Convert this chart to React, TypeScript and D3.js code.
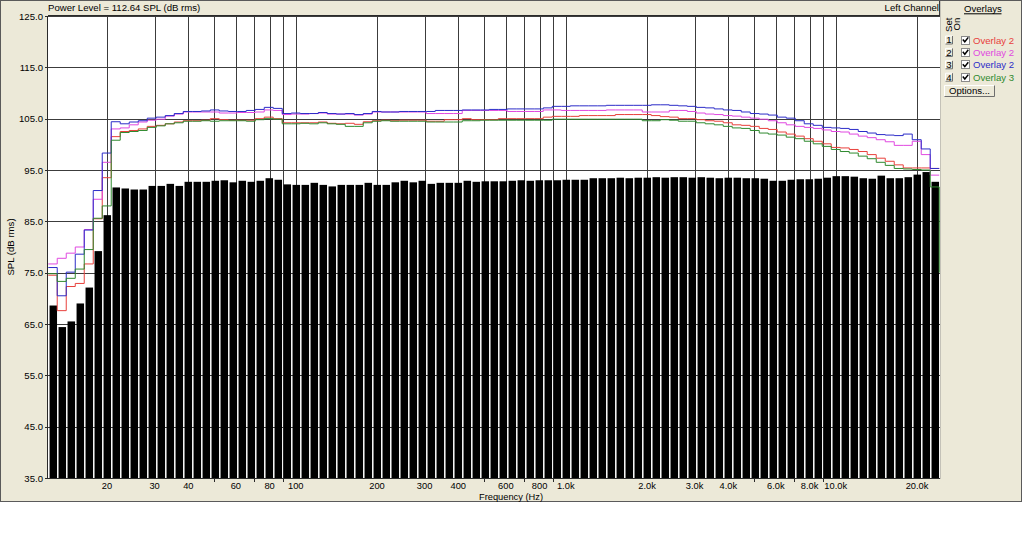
import React from "react";
import * as d3 from "d3";

// ---- data ----
const FREQS = [
  12.59, 13.59, 14.68, 15.85, 17.11, 18.48, 19.95, 21.54, 23.26, 25.12, 27.12, 29.29, 31.62, 34.15, 36.87, 39.81, 42.99, 46.42, 50.12, 54.12, 58.43, 63.1, 68.13, 73.56, 79.43, 85.77, 92.61,
  100.0, 108.0, 116.6, 125.9, 135.9, 146.8, 158.5, 171.1, 184.8, 199.5, 215.4, 232.6, 251.2, 271.2, 292.9, 316.2, 341.5, 368.7, 398.1, 429.9, 464.2, 501.2, 541.2, 584.3, 631.0, 681.3, 735.6, 794.3, 857.7, 926.1,
  1000, 1080, 1166, 1259, 1359, 1468, 1585, 1711, 1848, 1995, 2154, 2326, 2512, 2712, 2929, 3162, 3415, 3687, 3981, 4299, 4642, 5012, 5412, 5843, 6310, 6813, 7356, 7943, 8577, 9261,
  10000, 10800, 11660, 12590, 13590, 14680, 15850, 17110, 18480, 19950, 21540, 23260,
];

const BARS = [
  68.6, 64.4, 65.5, 69.0, 72.1, 79.2, 86.2, 91.6, 91.4, 91.2,
  91.2, 91.9, 91.9, 92.3, 91.9, 92.7, 92.7, 92.7, 92.9, 93.0,
  92.6, 92.9, 92.7, 92.9, 93.4, 93.1, 92.2, 92.1, 92.1, 92.5,
  92.1, 91.8, 92.1, 92.1, 92.1, 92.5, 92.1, 92.1, 92.6, 92.9,
  92.6, 92.9, 92.3, 92.5, 92.5, 92.5, 92.9, 92.7, 92.8, 92.8,
  92.8, 92.9, 93.0, 92.9, 93.0, 93.0, 93.0, 93.1, 93.1, 93.1,
  93.4, 93.4, 93.4, 93.5, 93.4, 93.5, 93.5, 93.6, 93.5, 93.6,
  93.6, 93.5, 93.6, 93.5, 93.4, 93.5, 93.5, 93.4, 93.4, 93.3,
  92.9, 92.9, 93.1, 93.2, 93.2, 93.3, 93.5, 93.8, 93.8, 93.7,
  93.4, 93.3, 93.9, 93.4, 93.4, 93.6, 94.1, 94.6, 92.7,
];

const SET1 = [
  74.5, 67.6, 72.3, 72.9, 76.7, 85.5, 93.5, 101.5, 102.5, 102.7,
  103.0, 103.5, 103.7, 104.0, 104.35, 104.6, 104.6, 104.7, 105.0, 104.8,
  104.7, 104.7, 104.7, 105.0, 105.3, 105.0, 104.2, 104.2, 104.2, 104.2,
  104.35, 104.1, 104.0, 104.1, 103.9, 104.4, 104.6, 104.7, 104.6, 104.7,
  104.7, 104.7, 104.5, 104.5, 104.8, 104.8, 105.0, 104.8, 104.8, 104.8,
  105.0, 105.0, 105.0, 105.0, 105.0, 105.3, 105.45, 105.45, 105.45, 105.6,
  105.6, 105.6, 105.6, 105.8, 105.8, 105.8, 105.8, 105.6, 105.4, 105.3,
  105.0, 105.0, 104.8, 104.6, 104.5, 104.2, 103.8, 103.7, 103.5, 103.1,
  102.9, 102.4, 102.0, 101.6, 101.1, 100.6, 100.1, 99.4, 99.3, 99.0,
  98.6, 98.0, 97.3, 96.7, 96.0, 95.4, 95.4, 95.4, 95.3,
];

const SET2 = [
  76.7, 77.8, 78.8, 80.0, 83.4, 89.3, 96.5, 103.0, 103.2, 103.8,
  104.35, 104.7, 104.9, 105.5, 105.9, 106.3, 106.3, 106.3, 106.3, 106.1,
  106.1, 106.2, 106.2, 106.3, 106.7, 106.6, 105.8, 105.9, 105.9, 106.0,
  106.1, 105.9, 105.9, 105.9, 105.7, 105.9, 106.3, 106.3, 106.3, 106.3,
  106.3, 106.3, 106.0, 106.0, 106.0, 106.0, 106.6, 106.6, 106.6, 106.6,
  106.6, 106.4, 106.4, 106.4, 106.4, 106.7, 106.7, 106.6, 106.6, 106.6,
  106.6, 106.6, 106.7, 106.7, 106.7, 106.7, 106.3, 106.3, 106.3, 106.6,
  106.6, 106.4, 106.1, 105.9, 105.8, 105.6, 105.5, 105.3, 105.1, 104.9,
  104.6, 104.2, 103.8, 103.5, 103.3, 103.1, 102.8, 102.5, 102.4, 102.0,
  101.6, 101.3, 100.9, 100.5, 99.8, 99.8, 100.6, 98.0, 94.0,
];

const SET3 = [
  76.0, 70.5, 75.1, 78.6, 83.3, 91.0, 98.3, 104.4, 104.0, 104.35,
  104.6, 105.1, 105.3, 105.6, 106.0, 106.4, 106.4, 106.5, 106.7, 106.5,
  106.4, 106.4, 106.6, 106.8, 107.2, 107.0, 106.0, 106.1, 106.0, 106.0,
  106.2, 106.0, 105.9, 106.0, 105.8, 106.0, 106.4, 106.3, 106.3, 106.4,
  106.4, 106.4, 106.4, 106.6, 106.6, 106.6, 106.7, 106.7, 106.7, 106.8,
  106.8, 106.9, 106.9, 106.9, 106.9, 107.1, 107.4, 107.4, 107.5, 107.5,
  107.5, 107.5, 107.6, 107.6, 107.6, 107.6, 107.6, 107.7, 107.7, 107.6,
  107.5, 107.4, 107.2, 107.1, 106.9, 106.7, 106.6, 106.3, 106.0, 105.9,
  105.7, 105.3, 105.1, 104.6, 104.0, 103.7, 103.3, 103.2, 103.1, 102.9,
  102.5, 102.2, 101.9, 101.8, 101.7, 102.0, 100.9, 99.1, 95.3,
];

const SET4 = [
  74.8, 73.3, 73.9, 75.7, 79.5, 85.6, 88.0, 100.8, 102.3, 102.5,
  102.7, 103.3, 103.6, 104.0, 104.2, 104.5, 104.5, 104.6, 104.5, 104.6,
  104.6, 104.6, 104.5, 104.8, 105.0, 104.9, 104.0, 104.0, 104.1, 104.0,
  104.2, 104.0, 103.9, 103.5, 103.5, 104.2, 104.5, 104.6, 104.5, 104.5,
  104.5, 104.5, 104.35, 104.35, 104.35, 104.35, 104.6, 104.6, 104.7, 104.7,
  104.7, 104.7, 104.7, 104.7, 104.7, 104.7, 104.9, 104.9, 104.9, 104.9,
  104.9, 104.9, 104.9, 104.9, 104.9, 104.9, 104.6, 104.6, 104.8, 104.7,
  104.5, 104.5, 104.2, 104.0, 103.8, 103.5, 103.2, 103.1, 102.7, 102.2,
  102.0, 101.8, 101.4, 101.1, 100.6, 100.1, 99.6, 99.0, 98.6, 98.3,
  97.7, 97.2, 96.5, 95.9, 95.3, 95.2, 95.1, 95.0, 91.7,
];
const SET4_END = 75.0;

const Y_TICKS = [125, 115, 105, 95, 85, 75, 65, 55, 45, 35];
const X_GRID = [20, 30, 40, 50, 60, 70, 80, 90, 100, 200, 300, 400, 500, 600, 700, 800, 900, 1000, 2000, 3000, 4000, 5000, 6000, 7000, 8000, 9000, 10000, 20000];
const X_LABELS: [number, string][] = [
  [20, "20"], [30, "30"], [40, "40"], [60, "60"], [80, "80"], [100, "100"],
  [200, "200"], [300, "300"], [400, "400"], [600, "600"], [800, "800"], [1000, "1.0k"],
  [2000, "2.0k"], [3000, "3.0k"], [4000, "4.0k"], [6000, "6.0k"], [8000, "8.0k"], [10000, "10.0k"], [20000, "20.0k"],
];
const LEGEND_SETS = ["1", "2", "3", "4"];
const LEGEND_LABELS = ["Overlay 2", "Overlay 2", "Overlay 2", "Overlay 3"];
const HEADER_LEFT = "Power Level = 112.64 SPL (dB rms)";
const HEADER_RIGHT = "Left Channel";

// ---- styles ----
const COLORS = ["#e8403c", "#e048e0", "#2c2cc8", "#2f8a2f"];
const BG = "#ece9d8";
const FONT = "'Liberation Sans', Arial, sans-serif";
const FS = 9.6;

const M = { left: 48, right: 940, top: 16, bottom: 478 };

function Button({ x, y, w, h, label }: { x: number; y: number; w: number; h: number; label: string }) {
  return (
    <g>
      <rect x={x} y={y} width={w} height={h} fill={BG} />
      <path d={`M${x + 0.5},${y + h - 0.5}V${y + 0.5}H${x + w - 0.5}`} stroke="#ffffff" fill="none" />
      <path d={`M${x + 0.5},${y + h - 0.5}H${x + w - 0.5}V${y + 0.5}`} stroke="#6e6e6e" fill="none" />
      <text x={x + w / 2} y={y + h / 2 + 3.4} textAnchor="middle" fontSize={FS} fill="#000">
        {label}
      </text>
    </g>
  );
}

export default function App() {
  const x = d3.scaleLog().domain([12.09, 24330]).range([M.left, M.right]);
  const y = d3.scaleLinear().domain([35, 125]).range([M.bottom, M.top]);

  const n = FREQS.length;
  const edges: number[] = FREQS.map((f, i) =>
    i === 0 ? f / Math.sqrt(FREQS[1] / f) : Math.sqrt(FREQS[i - 1] * f)
  );
  edges.push(FREQS[n - 1] * Math.sqrt(FREQS[n - 1] / FREQS[n - 2]));

  const line = d3.line<[number, number]>().curve(d3.curveStepAfter);
  const stepPath = (vals: number[], tail?: number) => {
    const pts: [number, number][] = vals.map((v, i) => [x(edges[i]), y(v)]);
    pts.push([x(edges[n]), y(vals[n - 1])]);
    if (tail !== undefined) pts.push([x(edges[n]), y(tail)]);
    return line(pts) || "";
  };

  const series = [SET1, SET2, SET3, SET4];
  const labeled = new Set(X_LABELS.map((d) => d[0]));

  return (
    <div style={{ position: "fixed", left: 0, top: 0 }}>
      <svg width={1024} height={536} style={{ display: "block", fontFamily: FONT }}>
        <rect x={0} y={0} width={1024} height={536} fill="#ffffff" />
        <rect x={0.5} y={0.5} width={1021} height={501} fill={BG} stroke="#5a5a5a" />

        {/* header */}
        <text x={48} y={10.5} fontSize={FS} fill="#000">{HEADER_LEFT}</text>
        <text x={939} y={10.8} fontSize={FS} textAnchor="end" fill="#000">{HEADER_RIGHT}</text>
        <line x1={939.5} x2={939.5} y1={1} y2={15} stroke="#3a3a3a" />

        {/* plot area */}
        <rect x={M.left} y={M.top} width={M.right - M.left} height={M.bottom - M.top} fill="#ffffff" />
        <g shapeRendering="crispEdges">
          {Y_TICKS.map((t) => (
            <line key={"h" + t} x1={M.left} x2={M.right} y1={Math.round(y(t)) + 0.5} y2={Math.round(y(t)) + 0.5} stroke="#3c3c3c" />
          ))}
          {X_GRID.map((f) => (
            <line key={"v" + f} x1={Math.round(x(f)) + 0.5} x2={Math.round(x(f)) + 0.5} y1={M.top} y2={M.bottom} stroke="#3c3c3c" />
          ))}
        </g>

        {/* bars */}
        <g>
          {BARS.map((v, i) => {
            const x0 = x(edges[i]);
            const x1 = x(edges[i + 1]);
            return (
              <rect key={"b" + i} x={Math.max(M.left, x0 + 1.3)} y={y(v)} width={x1 - x0 - 1.5} height={M.bottom - y(v)} fill="#000" />
            );
          })}
        </g>

        {/* overlays */}
        <g fill="none" strokeWidth={1}>
          {series.map((s, k) => (
            <path key={"s" + k} d={stepPath(s, k === 3 ? SET4_END : undefined)} stroke={COLORS[k]} />
          ))}
        </g>

        {/* plot borders */}
        <g shapeRendering="crispEdges">
          <line x1={M.left - 0.5} x2={M.right} y1={M.top - 0.5} y2={M.top - 0.5} stroke="#2a2a2a" />
          <line x1={M.left - 0.5} x2={M.left - 0.5} y1={M.top - 0.5} y2={M.bottom} stroke="#2a2a2a" />
          <line x1={M.left - 0.5} x2={M.right} y1={M.bottom + 0.5} y2={M.bottom + 0.5} stroke="#2a2a2a" />
          <line x1={M.right + 0.5} x2={M.right + 0.5} y1={1} y2={M.bottom + 1} stroke="#c4c2b8" />
        </g>

        {/* y axis */}
        <g fontSize={FS} fill="#000">
          {Y_TICKS.map((t) => (
            <g key={"yt" + t}>
              <line x1={M.left - 3} x2={M.left} y1={Math.round(y(t)) + 0.5} y2={Math.round(y(t)) + 0.5} stroke="#2a2a2a" shapeRendering="crispEdges" />
              <text x={43} y={y(t) + 3.5} textAnchor="end">{t.toFixed(1)}</text>
            </g>
          ))}
          <text transform={`translate(14,${(M.top + M.bottom) / 2}) rotate(-90)`} textAnchor="middle">SPL (dB rms)</text>
        </g>

        {/* x axis */}
        <g fill="#000">
          {X_GRID.filter((f) => !labeled.has(f)).map((f) => (
            <line key={"xt" + f} x1={Math.round(x(f)) + 0.5} x2={Math.round(x(f)) + 0.5} y1={M.bottom} y2={M.bottom + 4} stroke="#2a2a2a" shapeRendering="crispEdges" />
          ))}
          {X_LABELS.map(([f, t]) => (
            <text key={"xl" + f} x={x(f)} y={489} textAnchor="middle" fontSize={9.3}>{t}</text>
          ))}
          <text x={511} y={500} textAnchor="middle" fontSize={9.3}>Frequency (Hz)</text>
        </g>

        {/* legend panel */}
        <g fontSize={FS} fill="#000">
          <text x={964} y={12.3}>Overlays</text>
          <line x1={964} x2={1001.5} y1={13.8} y2={13.8} stroke="#000" />
          <text transform="translate(951.5,32) rotate(-90)">Set</text>
          <text transform="translate(960,30.5) rotate(-90)">On</text>
          {LEGEND_SETS.map((s, k) => {
            const cy = 40 + 12.4 * k;
            return (
              <g key={"lg" + k}>
                <Button x={945} y={cy - 4.5} w={8} h={9} label={s} />
                <rect x={961.5} y={cy - 4} width={8} height={8} fill="#fff" stroke="#8a8a8a" shapeRendering="crispEdges" />
                <path d={`M962.8,${cy - 0.6} L964.8,${cy + 1.8} L968.3,${cy - 2.6}`} stroke="#000" strokeWidth={1.5} fill="none" />
                <text x={973} y={cy + 3.5} fill={COLORS[k]}>{LEGEND_LABELS[k]}</text>
              </g>
            );
          })}
          <Button x={944} y={85} w={51} h={12} label="Options..." />
        </g>
      </svg>
    </div>
  );
}
